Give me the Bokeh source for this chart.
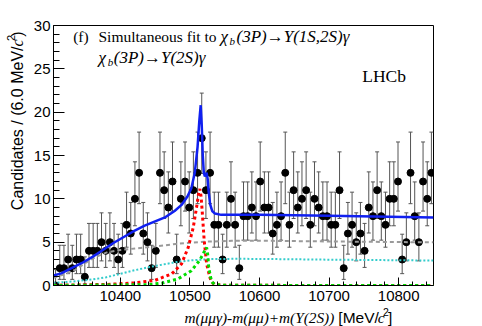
import numpy as np
from bokeh.plotting import figure
from bokeh.layouts import row, column
from bokeh.models import Range1d, Label, Whisker, ColumnDataSource, TeeHead, FixedTicker
from bokeh.embed import file_html
from bokeh.resources import INLINE

# ---------------- data ----------------
BIN_LO = 10304
BIN_WIDTH = 6
COUNTS = [0, 2, 2, 3, 2, 3, 3, 1, 4, 4, 4, 5, 4, 5, 4, 3, 4, 7, 6, 10,
          13, 6, 5, 2, 4, 13, 11, 9, 12, 3, 10, 12, 9, 11, 13, 17, 11, 13, 7, 7,
          3, 7, 10, 7, 2, 8, 8, 9, 8, 12, 9, 9, 6, 7, 8, 13, 7, 11, 9, 10,
          11, 7, 10, 9, 8, 8, 7, 7, 11, 2, 6, 7, 5, 6, 4, 9, 8, 11, 8, 7,
          10, 10, 12, 3, 5, 13, 8, 5, 12, 10, 13]

# 68.3% Poisson (Garwood) intervals for the observed counts
POISSON_INTERVAL = {0: (0.0, 1.841), 1: (0.173, 3.300), 2: (0.708, 4.638), 3: (1.367, 5.918),
                    4: (2.086, 7.163), 5: (2.840, 8.382), 6: (3.620, 9.584), 7: (4.419, 10.77),
                    8: (5.232, 11.95), 9: (6.057, 13.11), 10: (6.891, 14.27), 11: (7.734, 15.42),
                    12: (8.585, 16.56), 13: (9.441, 17.70), 17: (12.92, 22.20)}

TOTAL_X = [10304, 10315, 10330, 10345, 10360, 10375, 10390, 10405, 10420, 10435, 10450,
           10465, 10478, 10488, 10496, 10502, 10507, 10511, 10513.5, 10515.5, 10517,
           10518.5, 10520, 10521.5, 10523, 10524, 10525.5, 10527, 10529, 10532, 10536,
           10545, 10600, 10700, 10850]
TOTAL_Y = [1.15, 1.4, 2.0, 2.6, 3.3, 4.1, 4.9, 5.6, 6.3, 6.9, 7.4,
           7.9, 8.6, 9.3, 10.2, 11.2, 13.0, 16.0, 19.0, 20.8, 18.5,
           15.0, 13.0, 12.6, 12.8, 13.0, 12.3, 10.8, 9.4, 8.6, 8.3,
           8.15, 8.15, 8.05, 7.85]

BKG1_X = [10304, 10320, 10335, 10350, 10365, 10380, 10400, 10425, 10450, 10480, 10520,
          10560, 10620, 10700, 10850]
BKG1_Y = [0.9, 1.3, 1.8, 2.6, 3.3, 3.8, 4.1, 4.3, 4.5, 4.8, 5.05,
          5.15, 5.15, 5.08, 4.98]

BKG2_X = [10304, 10330, 10360, 10380, 10400, 10420, 10440, 10460, 10480, 10500, 10530,
          10570, 10620, 10700, 10850]
BKG2_Y = [0.3, 0.45, 0.7, 0.95, 1.35, 1.75, 2.1, 2.4, 2.7, 2.9, 3.05,
          3.08, 3.05, 2.98, 2.88]

SIG1_X = [10304, 10380, 10420, 10450, 10474, 10488, 10497.6, 10504.8, 10509.5, 10512.5,
          10514.3, 10516, 10517.6, 10520.5, 10524, 10528.6, 10531, 10536, 10550, 10850]
SIG1_Y = [0.03, 0.12, 0.3, 0.6, 1.35, 2.5, 4.4, 6.7, 9.0, 10.6,
          11.15, 10.3, 8.65, 5.2, 2.5, 0.96, 0.4, 0.1, 0.02, 0.0]

SIG2_X = [10304, 10440, 10460, 10483, 10502, 10514, 10520, 10524, 10525.5, 10527,
          10529.5, 10532, 10536, 10550, 10850]
SIG2_Y = [0.0, 0.1, 0.27, 0.77, 1.7, 2.9, 3.8, 4.4, 3.6, 2.1,
          1.0, 0.4, 0.1, 0.02, 0.0]

X_TICKS = [10400, 10500, 10600, 10700, 10800]
X_MINOR = [10320, 10340, 10360, 10380, 10420, 10440, 10460, 10480, 10520, 10540, 10560, 10580,
           10620, 10640, 10660, 10680, 10720, 10740, 10760, 10780, 10820, 10840]
Y_TICKS = [0, 5, 10, 15, 20, 25, 30]
Y_MINOR = [v for v in range(1, 30) if v % 5 != 0]

X_START, X_END = 10304, 10850
Y_START, Y_END = 0, 30

SERIF = "Liberation Serif"
SANS = "Liberation Sans"

# ---------------- layout geometry (page pixels) ----------------
PAGE_W, PAGE_H = 482, 326
TW = 30                       # width of the y-title strip
MAIN_W, MAIN_H = PAGE_W - TW, 307
XT_H = PAGE_H - MAIN_H        # height of the x-title strip
FRAME_L, FRAME_R, FRAME_T, FRAME_B = 53, 433, 25, 285
ML = FRAME_L - TW
MR = TW + MAIN_W - FRAME_R
MT = FRAME_T
MB = MAIN_H - FRAME_B
BASE_SHIFT = 5                # renderer draws "alphabetic" text slightly low; compensate

# ---------------- main figure ----------------
p = figure(width=MAIN_W, height=MAIN_H, x_range=Range1d(X_START, X_END), y_range=Range1d(Y_START, Y_END),
           output_backend="svg", toolbar_location=None,
           min_border_left=ML, min_border_right=MR, min_border_top=MT, min_border_bottom=MB)
p.background_fill_color = "white"
p.border_fill_color = "white"
p.outline_line_color = "black"
p.outline_line_width = 1
p.xgrid.visible = False
p.ygrid.visible = False

p.xaxis.ticker = FixedTicker(ticks=X_TICKS, minor_ticks=X_MINOR)
p.yaxis.ticker = FixedTicker(ticks=Y_TICKS, minor_ticks=Y_MINOR)
for ax in (p.xaxis[0], p.yaxis[0]):
    ax.axis_line_color = "black"
    ax.major_tick_line_color = "black"
    ax.minor_tick_line_color = "black"
    ax.major_tick_out = 0
    ax.minor_tick_out = 0
    ax.major_label_text_font = SANS
    ax.major_label_text_font_size = "15px"
    ax.major_label_text_color = "black"
p.xaxis.major_tick_in = 8
p.xaxis.minor_tick_in = 4
p.yaxis.major_tick_in = 11
p.yaxis.minor_tick_in = 6
p.xaxis.major_label_standoff = 5
p.yaxis.major_label_standoff = 3

# data points with Poisson error bars
centers = [BIN_LO + BIN_WIDTH * (i + 0.5) for i in range(len(COUNTS))]
lows = [POISSON_INTERVAL[c][0] for c in COUNTS]
highs = [POISSON_INTERVAL[c][1] for c in COUNTS]
src = ColumnDataSource(dict(x=centers, y=COUNTS, lo=lows, hi=highs))
BAR = "#555555"
wh = Whisker(base="x", lower="lo", upper="hi", source=src, line_color=BAR, line_width=1,
             upper_head=TeeHead(size=4, line_color=BAR, line_width=1),
             lower_head=TeeHead(size=4, line_color=BAR, line_width=1))
p.add_layout(wh)
p.scatter("x", "y", source=src, size=7, color="black")

# fit components
p.line(BKG1_X, BKG1_Y, line_color="#9a9a9a", line_width=2, line_dash="4 3")
p.line(BKG2_X, BKG2_Y, line_color="#33cccc", line_width=2, line_dash="2 2")
p.line(SIG1_X, SIG1_Y, line_color="#ff0000", line_width=3, line_dash="3 3")
p.line(SIG2_X, SIG2_Y, line_color="#00dd00", line_width=3, line_dash="3 3")
p.line(TOTAL_X, TOTAL_Y, line_color="#1020f0", line_width=2.5)

def dx(px):
    return X_START + (px - FRAME_L) / (FRAME_R - FRAME_L) * (X_END - X_START)
def dy(py):
    return Y_START + (FRAME_B - py) / (FRAME_B - FRAME_T) * (Y_END - Y_START)

def lab(fig, text, x, y, font, size, style="normal", align="left", angle=0.0):
    fig.add_layout(Label(x=x, y=y, text=text, text_font=font, text_font_size=size,
                         text_font_style=style, text_align=align, text_baseline="alphabetic",
                         angle=angle, text_color="black"))

S = BASE_SHIFT
# in-plot text (page pixel positions of the baselines)
lab(p, "(f)", dx(72.7), dy(41 - S), SERIF, "15.5px")
lab(p, "Simultaneous fit to", dx(98), dy(41 - S), SERIF, "15.5px")
lab(p, "χ", dx(220), dy(41 - S), SERIF, "17px", "italic")
lab(p, "b", dx(229), dy(45 - S), SERIF, "11px", "italic")
lab(p, "(3P)→Υ(1S,2S)γ", dx(236), dy(41 - S), SERIF, "17px", "italic")
lab(p, "χ", dx(98), dy(62 - S), SERIF, "17px", "italic")
lab(p, "b", dx(107.3), dy(66 - S), SERIF, "11px", "italic")
lab(p, "(3P)→Υ(2S)γ", dx(113.3), dy(62 - S), SERIF, "17px", "italic")
lab(p, "LHCb", dx(361.7), dy(81.7 - S - 1), SERIF, "17.5px")

# ---------------- x-title strip ----------------
xt = figure(width=MAIN_W, height=XT_H, x_range=Range1d(TW, PAGE_W), y_range=Range1d(PAGE_H, MAIN_H),
            x_axis_type=None, y_axis_type=None, output_backend="svg", toolbar_location=None,
            min_border=0, outline_line_color=None)
xt.background_fill_color = "white"
xt.border_fill_color = "white"
lab(xt, "m(μμγ)-m(μμ)+m(Υ(2S))", 364, 322 - S, SERIF, "15.3px", "italic", align="right")
lab(xt, "[MeV/", 417, 322 - S, SANS, "15.5px", align="right")
lab(xt, "c", 424, 322 - S, SERIF, "15.5px", "italic", align="right")
lab(xt, "2", 429, 316.5 - S, SANS, "10.5px", align="right")
lab(xt, "]", 433, 322 - S, SANS, "15.5px", align="right")

# ---------------- y-title strip ----------------
yt = figure(width=TW, height=PAGE_H, x_range=Range1d(0, TW), y_range=Range1d(PAGE_H, 0),
            x_axis_type=None, y_axis_type=None, output_backend="svg", toolbar_location=None,
            min_border=0, outline_line_color=None)
yt.background_fill_color = "white"
yt.border_fill_color = "white"
A = np.pi / 2
lab(yt, "Candidates / (6.0 MeV/", 22 - S, 46, SANS, "16px", align="right", angle=A)
lab(yt, "c", 22 - S, 39, SERIF, "16px", "italic", align="right", angle=A)
lab(yt, "2", 15.5 - S, 34.5, SANS, "11px", align="right", angle=A)
lab(yt, ")", 22 - S, 31, SANS, "16px", align="right", angle=A)

layout = row(yt, column(p, xt))
open("out.html", "w").write(file_html(layout, INLINE))
